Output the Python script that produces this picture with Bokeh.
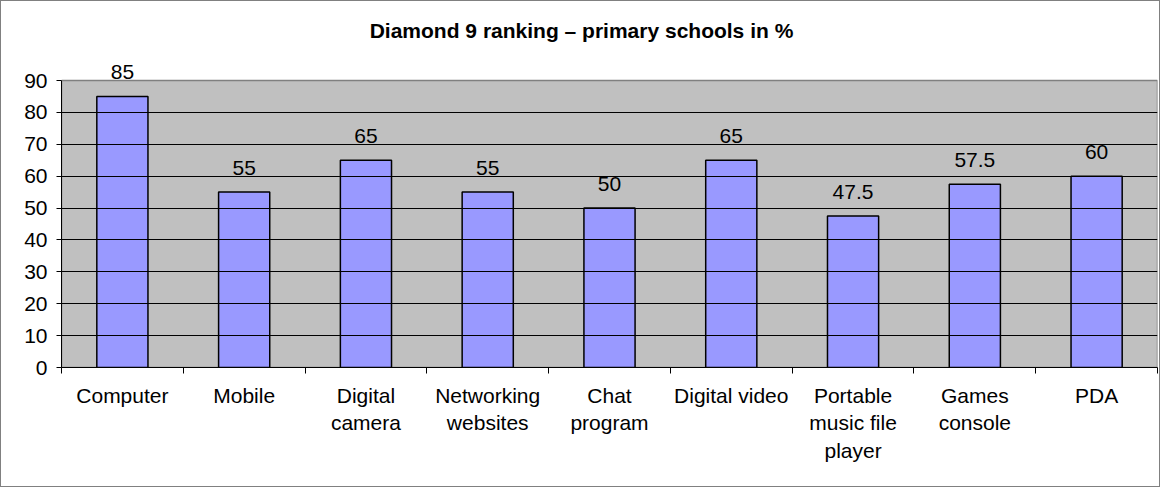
from bokeh.plotting import figure
from bokeh.models import ColumnDataSource, Range1d, FixedTicker, LabelSet, Label
from bokeh.core.properties import value
from bokeh.embed import file_html
from bokeh.resources import INLINE

categories = ["Computer", "Mobile", "Digital\ncamera", "Networking\nwebsites", "Chat\nprogram",
              "Digital video", "Portable\nmusic file\nplayer", "Games\nconsole", "PDA"]
values = [85, 55, 65, 55, 50, 65, 47.5, 57.5, 60]
y_ticks = [0, 10, 20, 30, 40, 50, 60, 70, 80, 90]
title_text = "Diamond 9 ranking \u2013 primary schools in %"

FONT = "Liberation Sans"
FS = "21px"
W, H = 1160, 487
B_LEFT, B_RIGHT, B_BOTTOM = 60, 4, 121
PLOT_TOP_PX = 79  # pixel position of the top of the gray plot area

n = len(categories)
y_max = y_ticks[-1]
frame_h = H - B_BOTTOM
y_end = y_max * frame_h / (frame_h - PLOT_TOP_PX)

xs = [i + 0.5 for i in range(n)]
labels = [str(int(v)) if float(v).is_integer() else str(v) for v in values]
src = ColumnDataSource(dict(x=xs, value=values, label=labels))

p = figure(width=W, height=H, output_backend="svg", toolbar_location=None,
           x_range=Range1d(0, n), y_range=Range1d(0, y_end),
           min_border_left=B_LEFT, min_border_right=B_RIGHT, min_border_top=0,
           min_border_bottom=B_BOTTOM)
p.background_fill_color = "white"
p.border_fill_color = "white"
p.outline_line_color = None
p.styles = {"border": "1px solid #808080"}

# gray plot area with its gray border
p.quad(left=[0], right=[n], bottom=[0], top=[y_max],
       fill_color="#C0C0C0", line_color="#808080", line_width=1.5)

# grid (drawn as part of the plot area)
p.xgrid.visible = False
p.ygrid.ticker = FixedTicker(ticks=y_ticks[1:-1])
p.ygrid.grid_line_color = "black"
p.ygrid.grid_line_width = 1
p.ygrid.level = "glyph"

p.vbar(x="x", top="value", width=0.42, bottom=0, source=src,
       fill_color="#9999FF", line_color="black", line_width=1.5)

p.add_layout(LabelSet(x="x", y="value", text="label", source=src, y_offset=17,
                      text_align="center", text_baseline="alphabetic",
                      text_font=value(FONT), text_font_size=value(FS), text_color="black"))

# title (centered on the whole chart)
p.add_layout(Label(x=n / 2, y=y_end, text=title_text, x_offset=-28, y_offset=-29,
                   text_align="center", text_baseline="alphabetic",
                   text_font=FONT, text_font_size=FS, text_font_style="bold",
                   text_color="black"))

# y axis
ya = p.yaxis[0]
ya.ticker = FixedTicker(ticks=y_ticks)
ya.bounds = (0, y_max)
ya.major_label_text_font = FONT
ya.major_label_text_font_size = FS
ya.major_label_text_color = "black"
ya.major_tick_out = 5
ya.major_tick_in = 0
ya.minor_tick_out = 0
ya.minor_tick_in = 0
ya.major_label_standoff = 9
ya.axis_line_color = "black"
ya.major_tick_line_color = "black"

# x axis
xa = p.xaxis[0]
xa.ticker = FixedTicker(ticks=xs, minor_ticks=list(range(n + 1)))
xa.major_label_overrides = {x: c for x, c in zip(xs, categories)}
xa.major_label_text_font = FONT
xa.major_label_text_font_size = FS
xa.major_label_text_color = "black"
xa.major_label_text_align = "center"
xa.major_tick_out = 0
xa.major_tick_in = 0
xa.minor_tick_out = 6
xa.minor_tick_in = 0
xa.minor_tick_line_color = "black"
xa.major_label_standoff = 10
xa.axis_line_color = "black"

open("out.html", "w").write(file_html(p, INLINE))
